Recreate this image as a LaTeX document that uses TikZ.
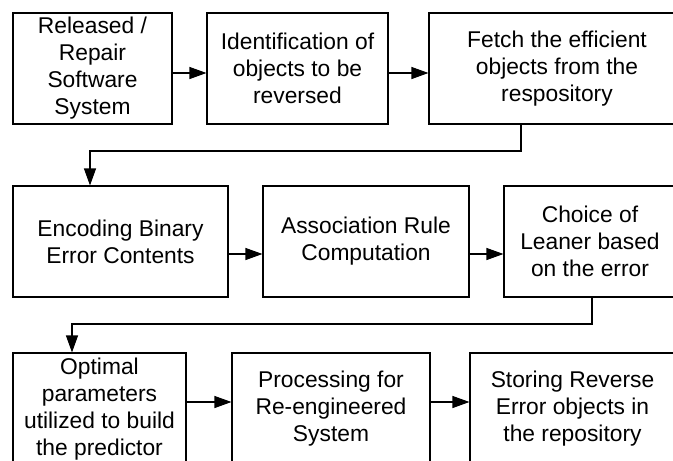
\documentclass[tikz,border=0pt]{standalone}
\usepackage{fontspec}
\setmainfont{Liberation Sans}
\usetikzlibrary{arrows.meta}
\begin{document}
\begin{tikzpicture}[x=1pt,y=-1pt,
  box/.style={draw=black,line width=1.1pt,rectangle,align=center,inner sep=0pt,
    font=\fontsize{22.8}{27}\selectfont},
  arr/.style={draw=black,line width=1.1pt,-{Triangle[length=17pt,width=12pt]}},
  conn/.style={draw=black,line width=1.1pt}]
\clip (0,0) rectangle (673,461);
\fill[white] (0,0) rectangle (673,461);
% row 1
\node[box,minimum width=159pt,minimum height=111pt] (b1) at (92.5,68.5) {Released /\\Repair\\Software\\System};
\node[box,minimum width=181pt,minimum height=111pt] (b2) at (297.5,68.5) {Identification of\\objects to be\\reversed};
\node[box,minimum width=256pt,minimum height=111pt] (b3) at (557,68.5) {Fetch the efficient\\objects from the\\respository};
% row 2
\node[box,minimum width=215pt,minimum height=111pt] (b4) at (120.5,241.5) {Encoding Binary\\Error Contents};
\node[box,minimum width=206pt,minimum height=111pt] (b5) at (366,241.5) {Association Rule\\Computation};
\node[box,minimum width=172pt,minimum height=111pt] (b6) at (590,241.5) {Choice of\\Leaner based\\on the error};
% row 3
\node[box,minimum width=173pt,minimum height=112pt] (b7) at (99.5,409) {Optimal\\parameters\\utilized to build\\the predictor};
\node[box,minimum width=198pt,minimum height=112pt] (b8) at (331,409) {Processing for\\Re-engineered\\System};
\node[box,minimum width=205pt,minimum height=112pt] (b9) at (572.5,409) {Storing Reverse\\Error objects in\\the repository};
% arrows in rows
\draw[arr] ([yshift=-4.5pt]b1.east) -- ([yshift=-4.5pt]b2.west);
\draw[arr] ([yshift=-4.5pt]b2.east) -- ([yshift=-4.5pt]b3.west);
\draw[arr] ([yshift=-12.5pt]b4.east) -- ([yshift=-12.5pt]b5.west);
\draw[arr] ([yshift=-12.5pt]b5.east) -- ([yshift=-12.5pt]b6.west);
\draw[arr] ([yshift=7pt]b7.east) -- ([yshift=7pt]b8.west);
\draw[arr] ([yshift=7pt]b8.east) -- ([yshift=7pt]b9.west);
% connectors between rows
\coordinate (c1) at (521,151);
\coordinate (c2) at (592,324);
\draw[arr] (b3.south -| c1) -- (c1) -- (c1 -| 90,0) -- (b4.north -| 90,0);
\draw[arr] (b6.south -| c2) -- (c2) -- (c2 -| 72,0) -- (b7.north -| 72,0);
\end{tikzpicture}
\end{document}
